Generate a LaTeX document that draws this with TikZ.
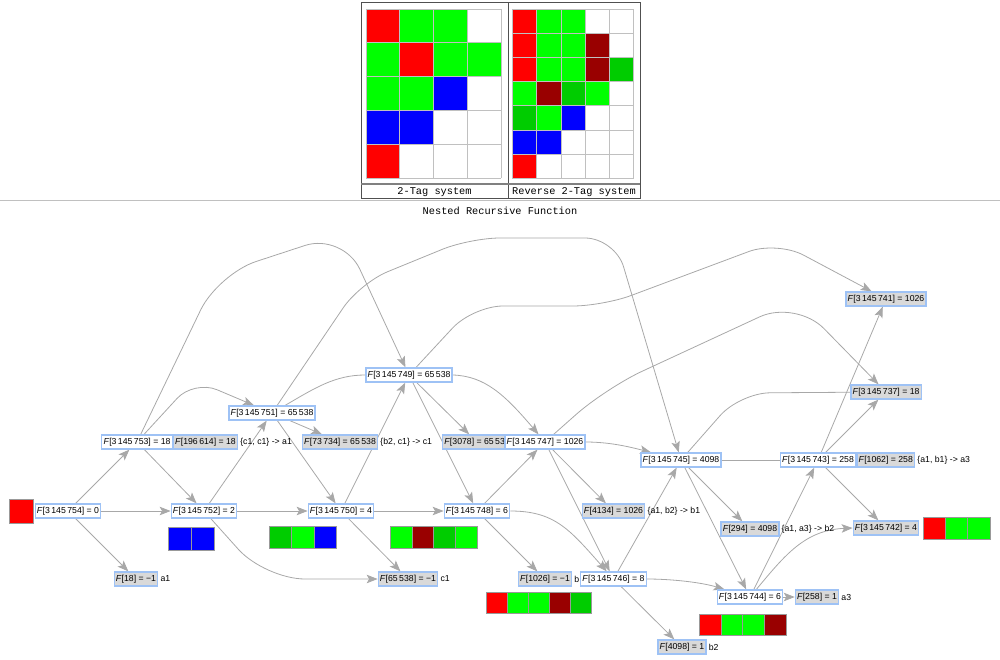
\documentclass[tikz,border=0pt]{standalone}
\usepackage{fontspec}
\setmainfont{Liberation Sans}
\setmonofont{Liberation Mono}
\usetikzlibrary{arrows.meta,positioning}
\pgfdeclarelayer{background}
\pgfsetlayers{background,main}
\definecolor{cred}{RGB}{255,0,0}
\definecolor{cgreen}{RGB}{0,255,0}
\definecolor{cdgreen}{RGB}{0,204,0}
\definecolor{cdred}{RGB}{153,0,0}
\definecolor{cblue}{RGB}{0,0,255}
\definecolor{edgegray}{RGB}{168,168,168}
\definecolor{nodeblue}{RGB}{158,194,245}
\definecolor{labgray}{RGB}{217,217,217}
\definecolor{cellgray}{RGB}{192,192,192}
\definecolor{framegray}{RGB}{80,80,80}

\begin{document}
\begin{tikzpicture}[x=1pt,y=1pt,
  every node/.style={font=\fontsize{8.7}{10}\selectfont},
  fnode/.style={draw=nodeblue,fill=white,line width=1.3pt,inner xsep=1.7pt,inner ysep=1pt,minimum height=14pt},
  gnode/.style={fnode,fill=labgray},
  note/.style={inner sep=0pt},
  caption/.style={font=\ttfamily\fontsize{10.3}{12}\selectfont,inner sep=0pt},
  link/.style={draw=edgegray,line width=0.8pt,-{Stealth[length=11pt,width=8.5pt,inset=2.5pt]}},
  bare/.style={draw=edgegray,line width=0.8pt},
  cell/.style={draw=cellgray,line width=0.7pt},
  sq/.style={draw=gray!80,line width=0.6pt}]
\useasboundingbox (0,0) rectangle (1000,-660);
% panel on top
\draw[cellgray,line width=0.8pt] (0,-200) -- (1000,-200);
\fill[white] (361,-3) rectangle (640,-199);
\foreach \c/\r/\col in {0/0/cred,1/0/cgreen,2/0/cgreen,0/1/cgreen,1/1/cred,2/1/cgreen,3/1/cgreen,
  0/2/cgreen,1/2/cgreen,2/2/cblue,0/3/cblue,1/3/cblue,0/4/cred}
  \fill[\col] (366+33.75*\c,-9-33.85*\r) rectangle ++(33.75,-33.85);
\foreach \c in {0,...,4} \draw[cell] (366+33.75*\c,-9) -- ++(0,-169.25);
\foreach \r in {0,...,5} \draw[cell] (366,-9-33.85*\r) -- ++(135,0);
\foreach \c/\r/\col in {0/0/cred,1/0/cgreen,2/0/cgreen,0/1/cred,1/1/cgreen,2/1/cgreen,3/1/cdred,
  0/2/cred,1/2/cgreen,2/2/cgreen,3/2/cdred,4/2/cdgreen,0/3/cgreen,1/3/cdred,2/3/cdgreen,3/3/cgreen,
  0/4/cdgreen,1/4/cgreen,2/4/cblue,0/5/cblue,1/5/cblue,0/6/cred}
  \fill[\col] (512.3+24.3*\c,-9-24.2*\r) rectangle ++(24.3,-24.2);
\foreach \c in {0,...,5} \draw[cell] (512.3+24.3*\c,-9) -- ++(0,-169.4);
\foreach \r in {0,...,7} \draw[cell] (512.3,-9-24.2*\r) -- ++(121.5,0);
\draw[framegray,line width=1pt] (361,-3) rectangle (640,-199);
\draw[framegray,line width=1pt] (508,-3) -- (508,-199);
\draw[gray,line width=1.2pt] (361,-184) -- (640,-184);
\node[caption] (tagcap) at (434.5,-191.8) {2-Tag system};
\node[caption] (revcap) at (574,-191.8) {Reverse 2-Tag system};
\node[caption] (title) at (500,-211) {Nested Recursive Function};
% graph
\node[fnode] (n54) at (68,-511) {\textit{F}[3\,145\,754] = 0};
\node[fnode] (n53) at (137,-442) {\textit{F}[3\,145\,753] = 18};
\node[gnode,right=0pt of n53] (g196614) {\textit{F}[196\,614] = 18};
\node[note,right=2pt of g196614] (r196614) {\{c1, c1\} -> a1};
\node[fnode] (n52) at (204,-511) {\textit{F}[3\,145\,752] = 2};
\node[gnode] (g18) at (136,-579) {\textit{F}[18] = −1};
\node[note,right=2pt of g18] (r18) {a1};
\node[fnode] (n51) at (272,-413) {\textit{F}[3\,145\,751] = 65\,538};
\node[gnode] (g73734) at (340,-442) {\textit{F}[73\,734] = 65\,538};
\node[note,right=2pt of g73734] (r73734) {\{b2, c1\} -> c1};
\node[fnode] (n50) at (341,-511) {\textit{F}[3\,145\,750] = 4};
\node[gnode] (g65538) at (408,-579) {\textit{F}[65\,538] = −1};
\node[note,right=2pt of g65538] (r65538) {c1};
\node[fnode] (n49) at (409,-375) {\textit{F}[3\,145\,749] = 65\,538};
\node[gnode] (g3078) at (477,-442) {\textit{F}[3078] = 65\,538};
\node[fnode] (n47) at (545,-442) {\textit{F}[3\,145\,747] = 1026};
\node[fnode] (n48) at (477,-511) {\textit{F}[3\,145\,748] = 6};
\node[gnode] (g1026) at (545,-579) {\textit{F}[1026] = −1};
\node[note,right=2pt of g1026] (r1026) {b};
\node[fnode] (n46) at (613.5,-579) {\textit{F}[3\,145\,746] = 8};
\node[gnode] (g4134) at (613.5,-511) {\textit{F}[4134] = 1026};
\node[note,right=2pt of g4134] (r4134) {\{a1, b2\} -> b1};
\node[fnode] (n45) at (681,-460) {\textit{F}[3\,145\,745] = 4098};
\node[gnode] (g294) at (750,-529) {\textit{F}[294] = 4098};
\node[note,right=2pt of g294] (r294) {\{a1, a3\} -> b2};
\node[fnode] (n44) at (750,-597) {\textit{F}[3\,145\,744] = 6};
\node[gnode] (g258) at (817,-597) {\textit{F}[258] = 1};
\node[note,right=2pt of g258] (r258) {a3};
\node[gnode] (g4098) at (682,-647) {\textit{F}[4098] = 1};
\node[note,right=2pt of g4098] (r4098) {b2};
\node[fnode] (n43) at (818,-460) {\textit{F}[3\,145\,743] = 258};
\node[gnode,right=0pt of n43] (g1062) {\textit{F}[1062] = 258};
\node[note,right=2pt of g1062] (r1062) {\{a1, b1\} -> a3};
\node[gnode] (n41) at (886,-299) {\textit{F}[3\,145\,741] = 1026};
\node[gnode] (n37) at (886,-392) {\textit{F}[3\,145\,737] = 18};
\node[gnode] (n42) at (886,-528) {\textit{F}[3\,145\,742] = 4};
% states as coloured cells
\filldraw[sq,fill=cred] (9,-499) rectangle (33,-523);
\filldraw[sq,fill=cblue] (168,-527) rectangle (191,-550);
\filldraw[sq,fill=cblue] (191,-527) rectangle (214,-550);
\filldraw[sq,fill=cdgreen] (269,-526) rectangle (291.5,-548);
\filldraw[sq,fill=cgreen] (291.5,-526) rectangle (314,-548);
\filldraw[sq,fill=cblue] (314,-526) rectangle (336.5,-548);
\filldraw[sq,fill=cgreen] (390,-526) rectangle (411.8,-548);
\filldraw[sq,fill=cdred] (411.8,-526) rectangle (433.5,-548);
\filldraw[sq,fill=cdgreen] (433.5,-526) rectangle (455.3,-548);
\filldraw[sq,fill=cgreen] (455.3,-526) rectangle (477,-548);
\filldraw[sq,fill=cred] (486,-592) rectangle (507,-613);
\filldraw[sq,fill=cgreen] (507,-592) rectangle (528,-613);
\filldraw[sq,fill=cgreen] (528,-592) rectangle (549,-613);
\filldraw[sq,fill=cdred] (549,-592) rectangle (570,-613);
\filldraw[sq,fill=cdgreen] (570,-592) rectangle (591,-613);
\filldraw[sq,fill=cred] (699,-614) rectangle (720.8,-635);
\filldraw[sq,fill=cgreen] (720.8,-614) rectangle (742.5,-635);
\filldraw[sq,fill=cgreen] (742.5,-614) rectangle (764.3,-635);
\filldraw[sq,fill=cdred] (764.3,-614) rectangle (786,-635);
\filldraw[sq,fill=cred] (923,-517) rectangle (945.3,-539);
\filldraw[sq,fill=cgreen] (945.3,-517) rectangle (967.7,-539);
\filldraw[sq,fill=cgreen] (967.7,-517) rectangle (990,-539);
\begin{pgfonlayer}{background}
\draw[link] (n54) -- (n53);
\draw[link] (n54) -- (n52);
\draw[link] (n54) -- (g18);
\draw[link] (n53) -- (n52);
\draw[link,rounded corners=25pt] (n53) -- (194,-380) -- (n51);
\draw[link,rounded corners=40pt] (n53) -- (218,-274) -- (343,-233) -- (n49);
\draw[link] (n52) -- (n51);
\draw[link] (n52) -- (n50);
\draw[link,rounded corners=40pt] (n52) -- (265,-579) -- (g65538);
\draw[link] (n51) -- (g73734);
\draw[link] (n51) -- (n50);
\draw[bare] (n51) .. controls (315,-388) and (335,-375) .. (n49.west);
\draw[link,rounded corners=30pt] (n51) -- (360,-283) -- (470,-238) -- (615,-238) -- (n45);
\draw[link] (n50) -- (n49);
\draw[link] (n50) -- (n48);
\draw[link] (n50) -- (g65538);
\draw[link] (n49) -- (g3078);
\draw[link] (n49) -- (n48);
\draw[link] (n49.east) .. controls (485,-376) and (505,-395) .. (n47);
\draw[link,rounded corners=30pt] (n49) -- (473,-306) -- (603,-306) -- (777,-241) -- (n41);
\draw[link] (n48) -- (n47);
\draw[link] (n48) -- (g1026);
\draw[link] (n48.east) .. controls (555,-511) and (570,-530) .. (n46);
\draw[link] (n47) -- (g4134);
\draw[link] (n47) -- (n46);
\draw[link] (n47.east) .. controls (610,-442) and (630,-447) .. (n45);
\draw[link,rounded corners=40pt] (n47) -- (606,-388) -- (796,-300) -- (n37);
\draw[link] (n46) -- (n45);
\draw[link] (n46) -- (g4098);
\draw[link] (n46.east) .. controls (670,-579) and (700,-582) .. (n44);
\draw[link] (n45) -- (n44);
\draw[link] (n45) -- (g294);
\draw[bare] (n45) -- (n43);
\draw[bare,rounded corners=30pt] (n45) -- (740,-393) -- (n37);
\draw[link] (n44) -- (n43);
\draw[link] (n44) -- (g258);
\draw[link] (n44) .. controls (785,-555) and (805,-530) .. (n42.west);
\draw[link] (n43) -- (n41);
\draw[link] (n43) -- (n37);
\draw[link] (n43) -- (n42);
\end{pgfonlayer}
\end{tikzpicture}
\end{document}
